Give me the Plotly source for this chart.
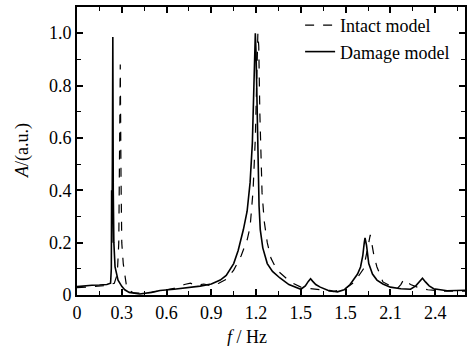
import plotly.graph_objects as go

# Damage model (solid)
f_damage = [0.0, 0.05, 0.1, 0.15, 0.2, 0.225, 0.23, 0.232, 0.234, 0.237, 0.24, 0.243, 0.247,
            0.255, 0.265, 0.275, 0.30, 0.32, 0.35, 0.42, 0.5, 0.557, 0.65, 0.75, 0.825, 0.9,
            0.96, 1.0, 1.05, 1.08, 1.115, 1.14, 1.16, 1.175, 1.185, 1.19, 1.195, 1.2, 1.205,
            1.21, 1.22, 1.228, 1.245, 1.275, 1.31, 1.36, 1.42, 1.5, 1.53, 1.55, 1.565, 1.58,
            1.6, 1.63, 1.68, 1.745, 1.79, 1.83, 1.85, 1.88, 1.9, 1.915, 1.925, 1.93, 1.94,
            1.955, 1.98, 2.01, 2.05, 2.1, 2.17, 2.235, 2.27, 2.295, 2.315, 2.335, 2.36, 2.39,
            2.48, 2.6]
a_damage = [0.032, 0.035, 0.037, 0.038, 0.04, 0.045, 0.1, 0.4, 0.2, 0.5, 0.985, 0.4, 0.2,
            0.107, 0.075, 0.057, 0.033, 0.02, 0.01, 0.004, 0.01, 0.017, 0.022, 0.028, 0.034, 0.042,
            0.057, 0.075, 0.12, 0.17, 0.25, 0.32, 0.43, 0.58, 0.78, 0.92, 1.0, 0.92, 0.75,
            0.55, 0.34, 0.25, 0.18, 0.12, 0.09, 0.065, 0.04, 0.022, 0.035, 0.052, 0.062, 0.052,
            0.04, 0.03, 0.018, 0.012, 0.02, 0.04, 0.057, 0.08, 0.107, 0.15, 0.2, 0.218, 0.19,
            0.12, 0.08, 0.057, 0.042, 0.03, 0.024, 0.022, 0.035, 0.05, 0.064, 0.05, 0.035, 0.024,
            0.016, 0.018]

# Intact model (dashed)
f_intact = [0.0, 0.1, 0.2, 0.25, 0.27, 0.28, 0.285, 0.29, 0.295, 0.30, 0.31, 0.32, 0.33, 0.34,
            0.38, 0.45, 0.55, 0.65, 0.72, 0.76, 0.8, 0.85, 0.9, 0.95, 1.0, 1.05, 1.10, 1.14,
            1.16, 1.18, 1.195, 1.205, 1.212, 1.218, 1.225, 1.24, 1.255, 1.275, 1.30, 1.34, 1.43,
            1.5, 1.55, 1.63, 1.72, 1.8, 1.86, 1.92, 1.94, 1.955, 1.965, 1.975, 1.99, 2.01, 2.05,
            2.1, 2.15, 2.17, 2.19, 2.21, 2.235, 2.28, 2.35, 2.45, 2.6]
a_intact = [0.028, 0.032, 0.036, 0.045, 0.08, 0.2, 0.45, 0.88, 0.45, 0.2, 0.12, 0.076, 0.04, 0.02,
            0.008, 0.006, 0.015, 0.025, 0.04, 0.045, 0.036, 0.042, 0.035, 0.045, 0.06, 0.095, 0.15, 0.21,
            0.26, 0.40, 0.6, 0.85, 1.0, 0.95, 0.7, 0.39, 0.28, 0.2, 0.14, 0.095, 0.05,
            0.03, 0.025, 0.02, 0.013, 0.025, 0.05, 0.1, 0.15, 0.2, 0.23, 0.2, 0.15, 0.107, 0.05,
            0.035, 0.027, 0.04, 0.06, 0.05, 0.04, 0.03, 0.02, 0.015, 0.015]

x_tickvals = [0, 0.3, 0.6, 0.9, 1.2, 1.5, 1.8, 2.1, 2.4]
x_ticktext = ["0", "0.3", "0.6", "0.9", "1.2", "1.5", "1.5", "2.1", "2.4"]
y_tickvals = [0, 0.2, 0.4, 0.6, 0.8, 1.0]
y_ticktext = ["0", "0.2", "0.4", "0.6", "0.8", "1.0"]

FONT = "Liberation Serif, Times New Roman, serif"

fig = go.Figure()
fig.add_trace(go.Scatter(x=f_intact, y=a_intact, mode="lines", name="Intact model",
                         line=dict(color="black", width=1.2, dash="dash")))
fig.add_trace(go.Scatter(x=f_damage, y=a_damage, mode="lines", name="Damage model",
                         line=dict(color="black", width=1.6)))

axis_common = dict(showline=True, linecolor="black", linewidth=1.8, mirror="allticks",
                   ticks="inside", ticklen=6, tickwidth=1.5, tickcolor="black",
                   showgrid=False, zeroline=False, automargin=False,
                   tickfont=dict(family=FONT, size=18, color="black"))

fig.update_xaxes(range=[0, 2.6], tickmode="array", tickvals=x_tickvals, ticktext=x_ticktext,
                 minor=dict(dtick=0.15, tick0=0, ticks="inside", ticklen=4, tickwidth=1.2,
                            tickcolor="black", showgrid=False),
                 **axis_common)
fig.update_yaxes(range=[0, 1.1], tickmode="array", tickvals=y_tickvals, ticktext=y_ticktext,
                 minor=dict(dtick=0.1, tick0=0, ticks="inside", ticklen=4, tickwidth=1.2,
                            tickcolor="black", showgrid=False),
                 **axis_common)

plot_w = 470 - 77 - 5
plot_h = 346 - 7 - 51

fig.update_layout(
    width=470, height=346,
    margin=dict(l=77, r=5, t=7, b=51, autoexpand=False),
    paper_bgcolor="white", plot_bgcolor="white",
    font=dict(family=FONT, size=18, color="black"),
    showlegend=True,
    legend=dict(x=0.575, y=1.0, xanchor="left", yanchor="top", bgcolor="rgba(0,0,0,0)",
                font=dict(family=FONT, size=18, color="black"),
                tracegroupgap=0, itemwidth=30),
    annotations=[
        dict(text="<i>f</i> / Hz", x=(247 - 77) / plot_w, y=-(337 - 295) / plot_h,
             xref="paper", yref="paper", xanchor="center", yanchor="middle",
             showarrow=False, font=dict(family=FONT, size=18, color="black")),
        dict(text="<i>A</i>/(a.u.)", x=0, y=0.5, xref="paper", yref="paper",
             xanchor="center", yanchor="middle",
             xshift=-55, textangle=-90, showarrow=False,
             font=dict(family=FONT, size=18, color="black")),
    ],
)

fig.write_html("out.html")
